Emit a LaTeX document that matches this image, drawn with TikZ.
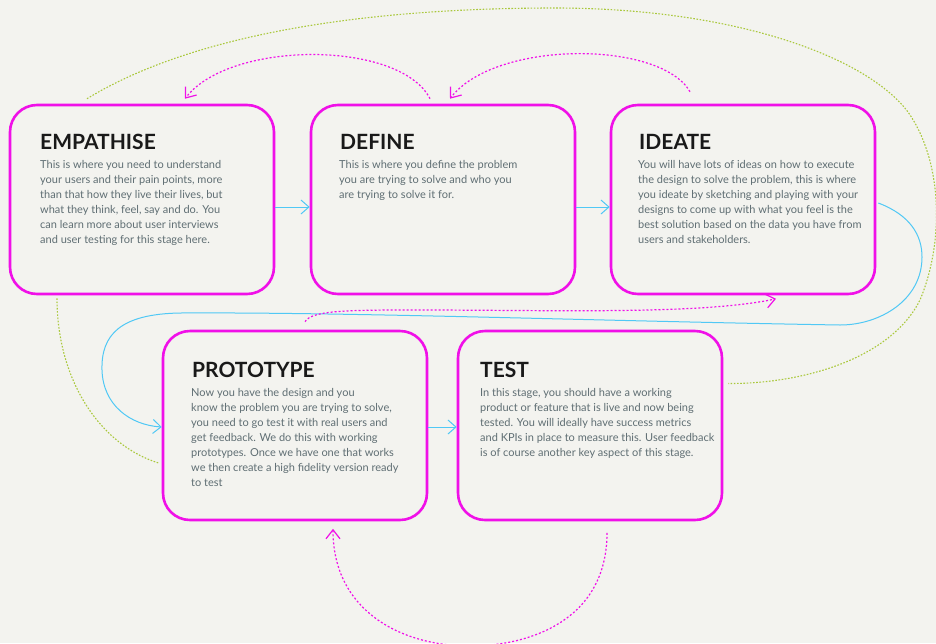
\documentclass[tikz,border=0pt]{standalone}
\usepackage{fontspec}
\setmainfont{Lato}
\newfontfamily\bodyfam{Lato}
\usetikzlibrary{arrows.meta,calc}
\definecolor{bg}{RGB}{243,243,239}
\definecolor{mag}{RGB}{240,16,232}
\definecolor{sky}{RGB}{80,200,245}
\definecolor{lime}{RGB}{170,200,60}
\definecolor{bodytext}{RGB}{95,110,115}
\begin{document}
\begin{tikzpicture}[x=1pt,y=-1pt,
  stage/.style={draw=mag, line width=2.6pt, rounded corners=27pt, minimum width=264pt, minimum height=189pt, inner sep=0pt},
  ttl/.style={font=\fontsize{21}{21}\selectfont\bfseries, text=black!90, inner sep=0pt, anchor=base west},
  bodytxt/.style={font=\bodyfam\fontsize{11}{15}\selectfont, text=bodytext, align=left, inner sep=0pt, anchor=north west},
  bluearr/.style={draw=sky, line width=1pt, -{Straight Barb[length=8pt,width=14pt]}},
  pinkdot/.style={draw=mag, line width=1.2pt, dash pattern=on 2pt off 2pt, -{Straight Barb[length=9pt,width=14pt]}},
  greendot/.style={draw=lime, line width=1.1pt, dash pattern=on 1.6pt off 1.6pt}]
\useasboundingbox[fill=bg] (0,0) rectangle (936,643);

\node[stage] (emp) at (142,199.5) {};
\node[stage] (def) at (443,199.5) {};
\node[stage] (ide) at (743,199.5) {};
\node[stage] (pro) at (295,425.5) {};
\node[stage] (tst) at (590,425.5) {};

\node[ttl] (empT) at (40,149) {EMPATHISE};
\node[ttl] (defT) at (340,149) {DEFINE};
\node[ttl] (ideT) at (639,149) {IDEATE};
\node[ttl] (proT) at (192,377) {PROTOTYPE};
\node[ttl] (tstT) at (480,377) {TEST};

\node[bodytxt] (empB) at (40,160.5) {This is where you need to understand\\your users and their pain points, more\\than that how they live their lives, but\\what they think, feel, say and do. You\\can learn more about user interviews\\and user testing for this stage here.};
\node[bodytxt] (defB) at (339,160.5) {This is where you define the problem\\you are trying to solve and who you\\are trying to solve it for.};
\node[bodytxt] (ideB) at (638,160.5) {You will have lots of ideas on how to execute\\the design to solve the problem, this is where\\you ideate by sketching and playing with your\\designs to come up with what you feel is the\\best solution based on the data you have from\\users and stakeholders.};
\node[bodytxt] (proB) at (191,388.5) {Now you have the design and you\\know the problem you are trying to solve,\\you need to go test it with real users and\\get feedback. We do this with working\\prototypes. Once we have one that works\\we then create a high fidelity version ready\\to test};
\node[bodytxt] (tstB) at (480,388.5) {In this stage, you should have a working\\product or feature that is live and now being\\tested. You will ideally have success metrics\\and KPIs in place to measure this. User feedback\\is of course another key aspect of this stage.};

% blue arrows
\draw[bluearr] ($(emp.east)+(0,7.5)$) -- ($(def.west)+(0,7.5)$);
\draw[bluearr] ($(def.east)+(0,7.5)$) -- ($(ide.west)+(0,7.5)$);
\draw[bluearr] ($(pro.east)+(0,1.5)$) -- ($(tst.west)+(0,1.5)$);
\draw[bluearr] ($(ide.east)+(2,3.5)$) .. controls (910,215) and (922,235) .. (922,257)
  .. controls (922,300) and (880,325) .. (840,325)
  .. controls (600,321) and (350,312) .. (180,313)
  .. controls (120,314) and (101,335) .. (102,370)
  .. controls (103,405) and (130,425) .. ($(pro.west)+(0,1.5)$);

% pink dotted arcs
\draw[pinkdot] ($(def.north)+(-13,-5)$) .. controls (400,40) and (230,40) .. ($(emp.north)+(43,-5)$);
\draw[pinkdot] ($(ide.north)+(-53,-12)$) .. controls (660,40) and (495,40) .. ($(def.north)+(7,-5)$);
\draw[pinkdot] ($(pro.north)+(10,-8)$) .. controls (312,310) and (350,310) .. (420,310)
  .. controls (550,310) and (700,315) .. ($(ide.south)+(33,3.5)$);
\draw[pinkdot] ($(tst.south)+(17,11.5)$) .. controls (607,620) and (530,646) .. (470,646)
  .. controls (400,646) and (333,610) .. ($(pro.south)+(38,7.5)$);

% green dotted
\draw[greendot] ($(emp.north)+(-55,-5)$) .. controls (200,30) and (380,8) .. (555,8)
  .. controls (730,8) and (865,55) .. (908,112)
  .. controls (942,160) and (945,240) .. (920,300)
  .. controls (890,360) and (800,384) .. ($(tst.east)+(5,-42)$);
\draw[greendot] ($(emp.south)+(-85,3)$) .. controls (57,380) and (100,445) .. ($(pro.west)+(-3,37.5)$);
\end{tikzpicture}
\end{document}
